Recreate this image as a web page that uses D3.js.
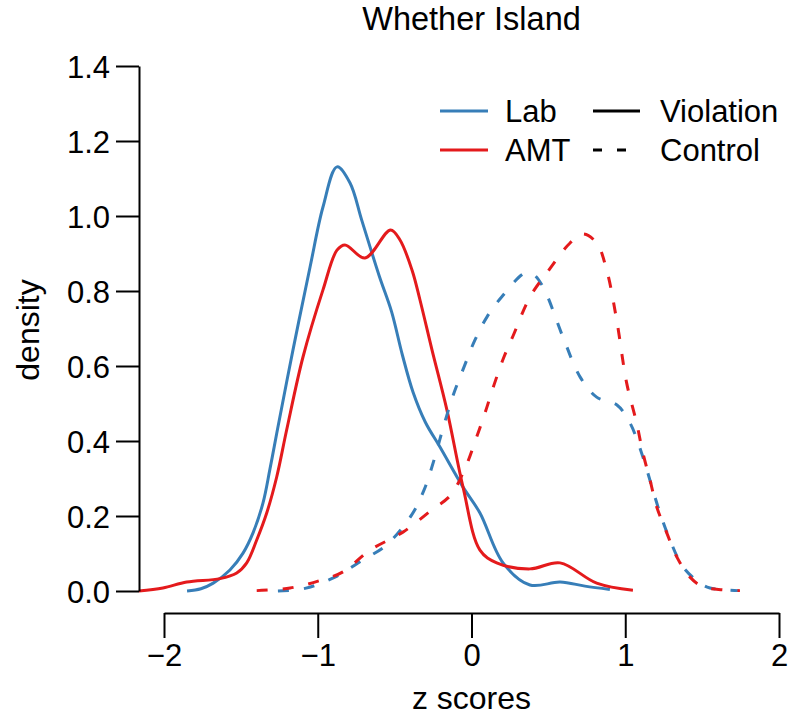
<!DOCTYPE html>
<html>
<head>
<meta charset="utf-8">
<script src="https://cdn.jsdelivr.net/npm/d3@7"></script>
<style>
  html, body { margin: 0; padding: 0; background: #fff; }
  svg { display: block; font-family: "Liberation Sans", Arial, Helvetica, sans-serif; }
</style>
</head>
<body>
<svg id="chart" width="788" height="718"></svg>
<script>
// ---- data ----
const title = "Whether Island";
const xTicks = [-2, -1, 0, 1, 2];
const yTicks = [0, 0.2, 0.4, 0.6, 0.8, 1.0, 1.2, 1.4];

const labViolationX = [-1.85, -1.76, -1.68, -1.571, -1.486, -1.421, -1.356, -1.311, -1.267, -1.161, -1.05, -0.966, -0.875, -0.79, -0.714, -0.6, -0.52, -0.45, -0.38, -0.3, -0.205, -0.055, 0.055, 0.205, 0.38, 0.576, 0.738, 0.9];
const labViolationY = [0.0, 0.006, 0.021, 0.056, 0.101, 0.155, 0.235, 0.325, 0.42, 0.643, 0.864, 1.024, 1.131, 1.088, 0.989, 0.84, 0.745, 0.63, 0.53, 0.45, 0.384, 0.277, 0.208, 0.075, 0.016, 0.024, 0.013, 0.004];

const amtViolationX = [-2.163, -2.007, -1.852, -1.636, -1.527, -1.462, -1.397, -1.332, -1.267, -1.202, -1.096, -0.966, -0.875, -0.823, -0.693, -0.526, -0.465, -0.387, -0.335, -0.257, -0.16, -0.055, 0.055, 0.164, 0.38, 0.576, 0.814, 1.05];
const amtViolationY = [0.0, 0.008, 0.024, 0.033, 0.048, 0.075, 0.136, 0.208, 0.304, 0.43, 0.624, 0.803, 0.909, 0.923, 0.888, 0.963, 0.936, 0.856, 0.776, 0.643, 0.483, 0.277, 0.109, 0.075, 0.059, 0.075, 0.021, 0.002];

const labControlX = [-1.259, -1.083, -0.888, -0.706, -0.552, -0.389, -0.309, -0.244, -0.179, -0.114, -0.049, 0.022, 0.101, 0.196, 0.348, 0.4, 0.465, 0.595, 0.706, 0.814, 0.946, 1.031, 1.115, 1.174, 1.226, 1.291, 1.376, 1.486, 1.551, 1.733];
const labControlY = [0.0, 0.007, 0.037, 0.083, 0.123, 0.203, 0.269, 0.349, 0.443, 0.528, 0.597, 0.669, 0.731, 0.784, 0.848, 0.845, 0.811, 0.677, 0.571, 0.517, 0.496, 0.448, 0.357, 0.277, 0.208, 0.136, 0.064, 0.021, 0.008, 0.001];

const amtControlX = [-1.397, -1.18, -0.985, -0.836, -0.66, -0.446, -0.259, -0.135, -0.038, 0.027, 0.088, 0.146, 0.211, 0.27, 0.38, 0.489, 0.641, 0.725, 0.814, 0.879, 0.944, 1.009, 1.074, 1.115, 1.161, 1.205, 1.27, 1.335, 1.421, 1.506, 1.636, 1.746];
const amtControlY = [0.001, 0.008, 0.028, 0.051, 0.109, 0.157, 0.216, 0.256, 0.331, 0.403, 0.475, 0.549, 0.624, 0.68, 0.784, 0.848, 0.928, 0.952, 0.928, 0.856, 0.723, 0.555, 0.448, 0.368, 0.296, 0.224, 0.155, 0.091, 0.037, 0.011, 0.003, 0.001];

const groupNames = ["Lab", "AMT"];
const conditionNames = ["Violation", "Control"];

// ---- styling ----
const colors = { Lab: "#377EB8", AMT: "#E41A1C" };
const dashes = { Violation: null, Control: "11,15" };
const fontSize = 31;

const svg = d3.select("#chart");
const x = d3.scaleLinear().domain([-2, 2]).range([164, 779]);
const y = d3.scaleLinear().domain([0, 1.4]).range([591, 66]);

const series = [
  { group: "Lab", cond: "Violation", xs: labViolationX, ys: labViolationY },
  { group: "AMT", cond: "Violation", xs: amtViolationX, ys: amtViolationY },
  { group: "Lab", cond: "Control", xs: labControlX, ys: labControlY },
  { group: "AMT", cond: "Control", xs: amtControlX, ys: amtControlY }
];

const line = d3.line()
  .x(d => x(d[0]))
  .y(d => y(d[1]))
  .curve(d3.curveCatmullRom.alpha(0.5));

svg.append("g").selectAll("path")
  .data(series)
  .join("path")
  .attr("d", s => line(s.xs.map((v, i) => [v, s.ys[i]])))
  .attr("fill", "none")
  .attr("stroke", s => colors[s.group])
  .attr("stroke-width", 3)
  .attr("stroke-dasharray", s => dashes[s.cond]);

// ---- axes ----
const tickLen = 23;
const yAxis = d3.axisLeft(y).tickValues(yTicks).tickFormat(d3.format(".1f"))
  .tickSize(tickLen).tickSizeOuter(0).tickPadding(6);
const gy = svg.append("g").attr("transform", "translate(139,0)").call(yAxis);

const xAxis = d3.axisBottom(x).tickValues(xTicks)
  .tickFormat(d => d < 0 ? "\u2212" + Math.abs(d) : String(d))
  .tickSize(tickLen + 2).tickSizeOuter(0).tickPadding(6);
const gx = svg.append("g").attr("transform", "translate(0,613)").call(xAxis);

[gx, gy].forEach(g => {
  g.select(".domain").attr("stroke", "#000").attr("stroke-width", 2);
  g.selectAll(".tick line").attr("stroke", "#000").attr("stroke-width", 2);
  g.selectAll(".tick text").attr("fill", "#000")
    .style("font-size", fontSize + "px")
    .style("font-family", "'Liberation Sans', Arial, Helvetica, sans-serif");
});
gy.selectAll(".tick text").attr("dy", "0.36em");
gx.selectAll(".tick text").attr("dy", "0.72em");

// ---- labels ----
svg.append("text").attr("x", 471.5).attr("y", 30).attr("text-anchor", "middle")
  .style("font-size", "32.5px").text(title);
svg.append("text").attr("x", 471.5).attr("y", 709).attr("text-anchor", "middle")
  .style("font-size", "32px").text("z scores");
svg.append("text").attr("transform", "translate(39,330) rotate(-90)")
  .attr("text-anchor", "middle").style("font-size", "32px").text("density");

// ---- legend ----
const legend = svg.append("g");
const rowY = [111, 150];
groupNames.forEach((g, i) => {
  legend.append("line").attr("x1", 440).attr("x2", 488).attr("y1", rowY[i]).attr("y2", rowY[i])
    .attr("stroke", colors[g]).attr("stroke-width", 3);
  legend.append("text").attr("x", 505).attr("y", rowY[i]).attr("dy", "0.36em")
    .style("font-size", fontSize + "px").text(g);
});
conditionNames.forEach((c, i) => {
  legend.append("line").attr("x1", 593).attr("x2", 640).attr("y1", rowY[i]).attr("y2", rowY[i])
    .attr("stroke", "#000").attr("stroke-width", 3)
    .attr("stroke-dasharray", c === "Control" ? "9,15" : null);
  legend.append("text").attr("x", 660).attr("y", rowY[i]).attr("dy", "0.36em")
    .style("font-size", fontSize + "px").text(c);
});
</script>
</body>
</html>
